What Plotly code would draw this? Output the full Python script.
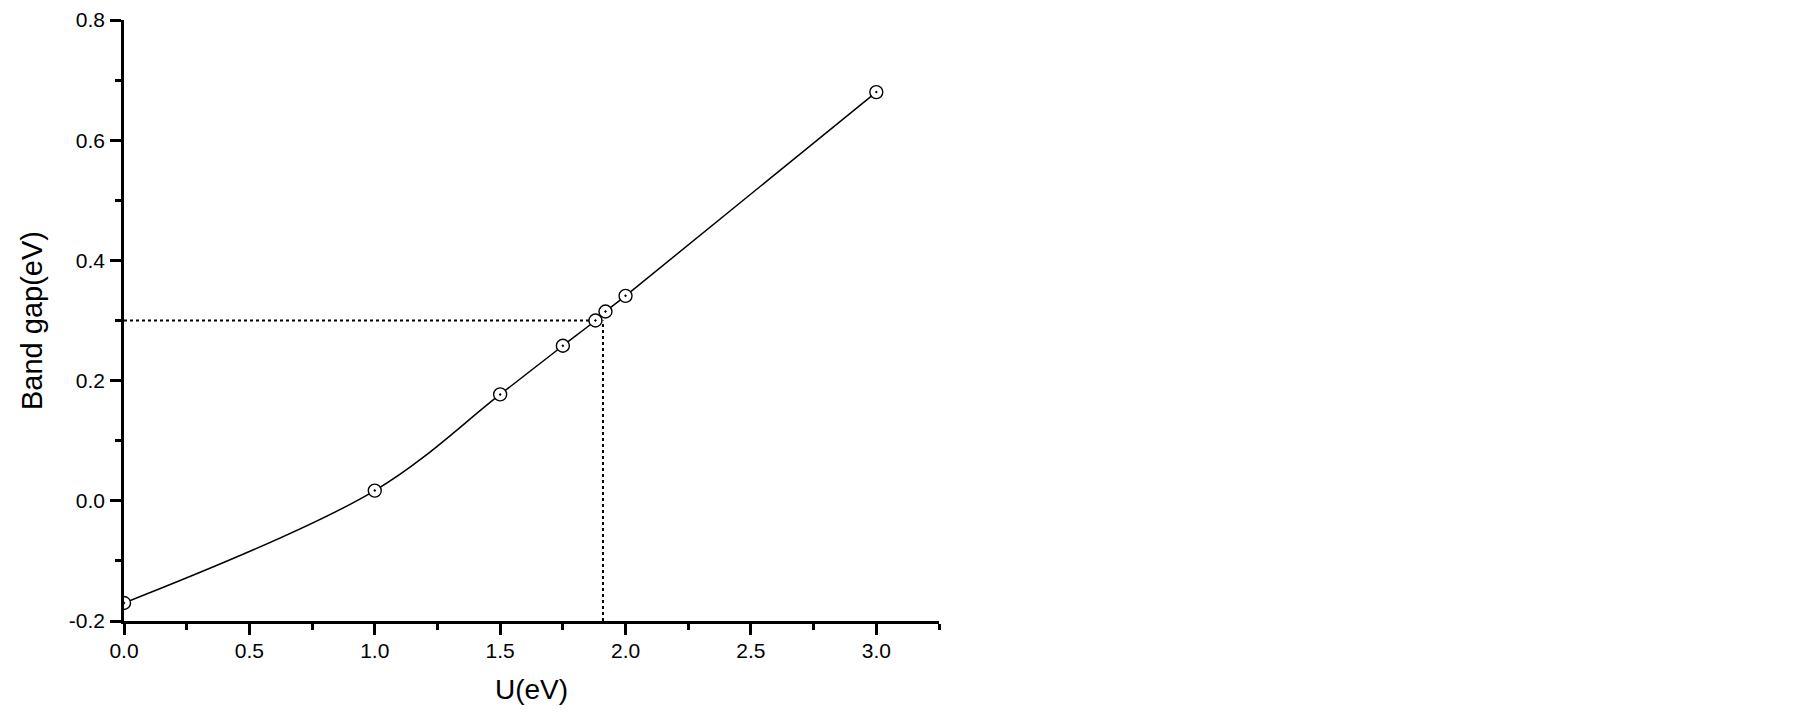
import plotly.graph_objects as go

# Data
u_values = [0.0, 1.0, 1.5, 1.75, 1.88, 1.92, 2.0, 3.0]
band_gap = [-0.17, 0.017, 0.177, 0.258, 0.300, 0.315, 0.341, 0.680]
target_gap = 0.3
cross_u = 1.91

x_range = [0, 3.25]
y_range = [-0.2, 0.8]
x_ticks = [0.0, 0.5, 1.0, 1.5, 2.0, 2.5, 3.0]
x_ticklabels = ["0.0", "0.5", "1.0", "1.5", "2.0", "2.5", "3.0"]
y_ticks = [-0.2, 0.0, 0.2, 0.4, 0.6, 0.8]
y_ticklabels = ["-0.2", "0.0", "0.2", "0.4", "0.6", "0.8"]

FONT = "Liberation Sans, Arial, sans-serif"

fig = go.Figure()

fig.add_trace(go.Scatter(
    x=u_values, y=band_gap,
    mode="lines+markers",
    line=dict(color="black", width=1.5, shape="spline", smoothing=1.0),
    marker=dict(symbol="circle-dot", size=13, color="white",
                line=dict(color="black", width=1.4)),
    showlegend=False,
))

# dotted guide lines
fig.add_shape(type="line", xref="x", yref="y",
              x0=x_range[0], x1=cross_u, y0=target_gap, y1=target_gap,
              line=dict(color="black", width=2, dash="dot"), layer="below")
fig.add_shape(type="line", xref="x", yref="y",
              x0=cross_u, x1=cross_u, y0=y_range[0], y1=target_gap,
              line=dict(color="black", width=2, dash="dot"), layer="below")

axis_common = dict(
    showgrid=False, zeroline=False, showline=True,
    linecolor="black", linewidth=2.5,
    ticks="outside", ticklen=11, tickwidth=2.5, tickcolor="black",
    tickfont=dict(family=FONT, size=21, color="black"),
    mirror=False, automargin=False, ticklabeloverflow="allow",
)

fig.update_xaxes(
    range=x_range, tickvals=x_ticks, ticktext=x_ticklabels,
    title=dict(text="U(eV)", font=dict(family=FONT, size=28, color="black"), standoff=25),
    minor=dict(dtick=0.25, tick0=0, ticks="outside", ticklen=6, tickwidth=2.5, tickcolor="black"),
    ticklabelstandoff=-2,
    **axis_common,
)
fig.update_yaxes(
    range=y_range, tickvals=y_ticks, ticktext=y_ticklabels,
    title=dict(text="Band gap(eV)", font=dict(family=FONT, size=29, color="black"), standoff=18),
    minor=dict(dtick=0.1, tick0=-0.2, ticks="outside", ticklen=6, tickwidth=2.5, tickcolor="black"),
    ticklabelstandoff=1,
    **axis_common,
)

# page body has an 8px margin; figure is sized so the plot lands where the reference has it
fig.update_layout(
    width=1789, height=697,
    margin=dict(l=116, r=858, t=12, b=84, pad=0),
    plot_bgcolor="white", paper_bgcolor="white",
    font=dict(family=FONT, color="black"),
)

fig.write_html("out.html")
